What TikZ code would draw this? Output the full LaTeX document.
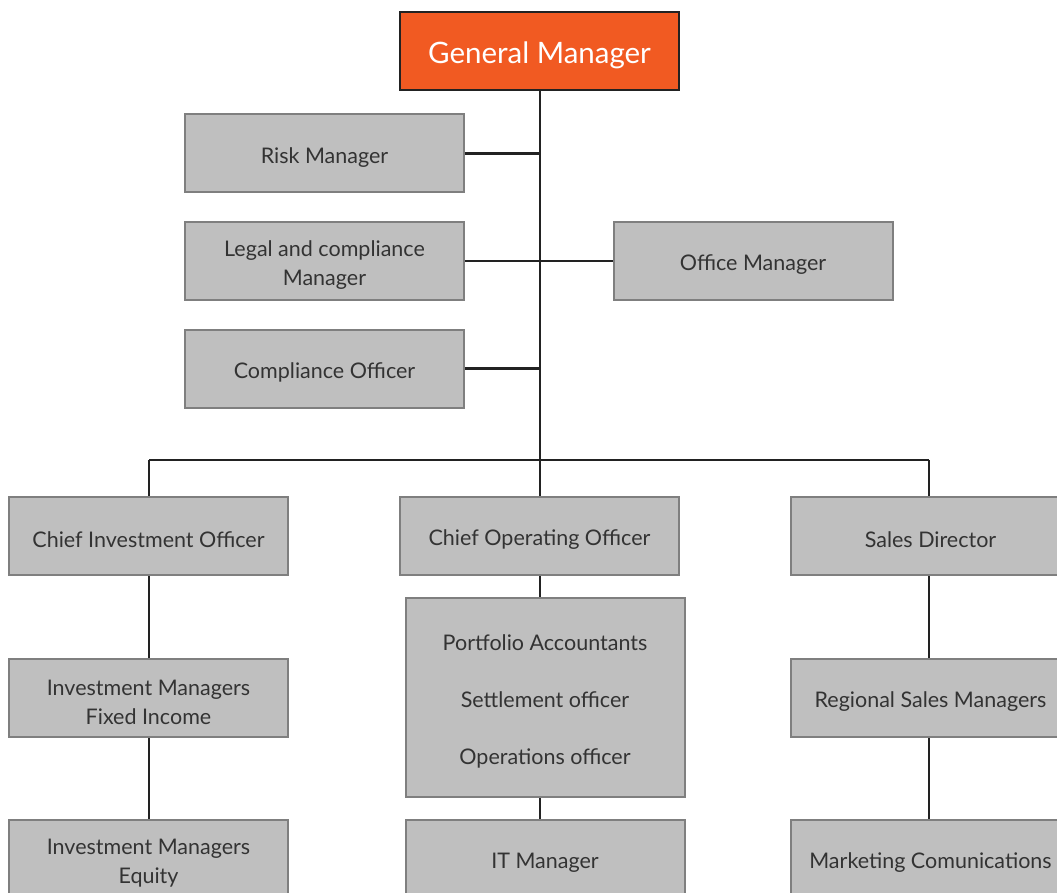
\documentclass[tikz,border=0pt]{standalone}
\usepackage{fontspec}
\setmainfont{Lato}
\definecolor{boxfill}{HTML}{BFBFBF}
\definecolor{boxline}{HTML}{7F7F7F}
\definecolor{gmfill}{HTML}{F15A22}
\definecolor{linec}{HTML}{222222}
\definecolor{txt}{HTML}{333333}
\begin{document}
\begin{tikzpicture}[x=1pt,y=-1pt,
  role/.style={draw=boxline,line width=2pt,fill=boxfill,minimum width=279pt,minimum height=78pt,inner sep=0pt},
  rtext/.style={yshift=-4pt,inner sep=0pt,align=center,text=txt,font=\fontsize{21.5}{29}\selectfont},
  gm/.style={draw=linec,line width=2.5pt,fill=gmfill,minimum width=279pt,minimum height=78pt,inner sep=0pt},
  gtext/.style={yshift=-4pt,inner sep=0pt,text=white,font=\fontsize{29.5}{34}\selectfont},
  conn/.style={draw=linec,line width=2.5pt}]
\useasboundingbox (0,0) rectangle (1057,893);
\clip (0,0) rectangle (1057,893);
\node[gm,label={[gtext]center:General Manager}] (gm) at (539.5,51) {};
\node[role,label={[rtext]center:Risk Manager}] (risk) at (324.5,153.5) {};
\node[role,label={[rtext]center:Legal and compliance\\Manager}] (legal) at (324.5,261) {};
\node[role,label={[rtext]center:Office Manager}] (office) at (753,261) {};
\node[role,label={[rtext]center:Compliance Officer}] (comp) at (324.5,368.5) {};
\node[role,label={[rtext]center:Chief Investment Officer}] (cio) at (148.5,536) {};
\node[role,label={[rtext]center:Chief Operating Officer}] (coo) at (539.5,536) {};
\node[role,label={[rtext]center:Sales Director}] (sales) at (930.5,536) {};
\node[role,label={[rtext]center:Investment Managers\\Fixed Income}] (fixed) at (148.5,698) {};
\node[role,minimum height=199pt,label={[rtext]center:Portfolio Accountants\\[28pt]Settlement officer\\[28pt]Operations officer}] (ops) at (545,697.5) {};
\node[role,label={[rtext]center:Regional Sales Managers}] (regional) at (930.5,698) {};
\node[role,label={[rtext]center:Investment Managers\\Equity}] (equity) at (148.5,859) {};
\node[role,label={[rtext]center:IT Manager}] (it) at (545,859) {};
\node[role,label={[rtext]center:Marketing Comunications}] (mkt) at (930.5,859) {};
\coordinate (bus) at (540,460);
\coordinate (busL) at (149,460);
\coordinate (busR) at (929,460);
\draw[conn] (gm.south -| bus) -- (bus);
\draw[conn] (risk.east) -- (risk.east -| bus);
\draw[conn] (legal.east) -- (office.west);
\draw[conn] (comp.east) -- (comp.east -| bus);
\draw[conn] (busL) -- (busR);
\draw[conn] (busL) -- (cio.north -| busL);
\draw[conn] (bus) -- (coo.north -| bus);
\draw[conn] (busR) -- (sales.north -| busR);
\draw[conn] (cio.south -| busL) -- (fixed.north -| busL);
\draw[conn] (fixed.south -| busL) -- (equity.north -| busL);
\draw[conn] (coo.south -| bus) -- (ops.north -| bus);
\draw[conn] (ops.south -| bus) -- (it.north -| bus);
\draw[conn] (sales.south -| busR) -- (regional.north -| busR);
\draw[conn] (regional.south -| busR) -- (mkt.north -| busR);
\end{tikzpicture}
\end{document}
